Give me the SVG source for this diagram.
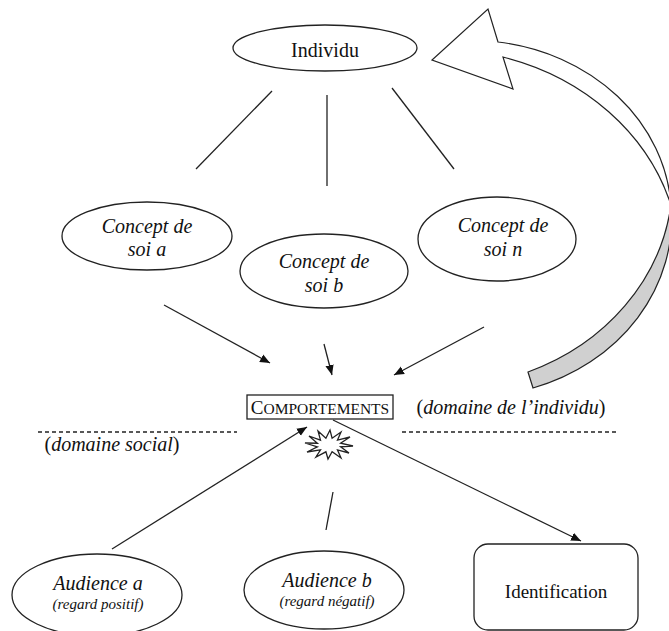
<svg xmlns="http://www.w3.org/2000/svg" width="669" height="631" viewBox="0 0 669 631">
<style>
  .shape { fill: #fff; stroke: #222; stroke-width: 1.3; }
  .ln { stroke: #222; stroke-width: 1.3; fill: none; }
  .dash { stroke: #222; stroke-width: 1.5; stroke-dasharray: 4 3; fill: none; }
  .t { font-family: "Liberation Serif", "Times New Roman", serif; fill: #111; text-anchor: middle; }
  .it { font-style: italic; }
</style>
<defs>
  <marker id="arr" viewBox="0 0 10 10" refX="10" refY="5" markerWidth="10" markerHeight="10" markerUnits="userSpaceOnUse" orient="auto">
    <path d="M0,0.8 L10,5 L0,9.2 Z" fill="#111"/>
  </marker>
</defs>
<rect width="669" height="631" fill="#fff"/>

<g id="feedback-arrow">
  <path d="M 671,205 A 200 178 0 0 1 533,388 L 528,372 A 232 208 0 0 0 671,205 Z" fill="#d0d0d0" stroke="#222" stroke-width="1.2"/>
  <path d="M 498,42 L 488,9 L 432,60 L 513,89 L 503,57 A 244 216 0 0 1 671,205 A 200 176 0 0 0 498,42 Z" fill="#fff" stroke="#222" stroke-width="1.2"/>
</g>

<g id="connectors">
  <line class="ln" x1="272" y1="91" x2="196" y2="169"/>
  <line class="ln" x1="327" y1="95" x2="327" y2="186"/>
  <line class="ln" x1="392" y1="88" x2="454" y2="169"/>
  <line class="ln" x1="164" y1="305" x2="270" y2="363" marker-end="url(#arr)"/>
  <line class="ln" x1="324" y1="344" x2="332" y2="375" marker-end="url(#arr)"/>
  <line class="ln" x1="484" y1="327" x2="394" y2="375" marker-end="url(#arr)"/>
  <line class="ln" x1="112" y1="549" x2="307" y2="427" marker-end="url(#arr)"/>
  <line class="ln" x1="333" y1="420" x2="581" y2="541" marker-end="url(#arr)"/>
  <line class="ln" x1="333" y1="492" x2="326" y2="530"/>
</g>

<g id="individu">
  <ellipse class="shape" cx="325" cy="48" rx="92" ry="23"/>
  <text class="t" x="325" y="57" font-size="20">Individu</text>
</g>

<g id="concept-a">
  <ellipse class="shape" cx="147" cy="236" rx="85" ry="34"/>
  <text class="t it" x="147" y="233" font-size="20">Concept de</text>
  <text class="t it" x="147" y="256" font-size="20">soi a</text>
</g>

<g id="concept-b">
  <ellipse class="shape" cx="324" cy="271" rx="84" ry="37"/>
  <text class="t it" x="324" y="268" font-size="20">Concept de</text>
  <text class="t it" x="324" y="292" font-size="20">soi b</text>
</g>

<g id="concept-n">
  <ellipse class="shape" cx="497" cy="239" rx="79" ry="42"/>
  <text class="t it" x="503" y="232" font-size="20">Concept de</text>
  <text class="t it" x="503" y="256" font-size="20">soi n</text>
</g>

<g id="comportements">
  <rect class="shape" x="247" y="395" width="146" height="24"/>
  <text class="t" x="320" y="414"><tspan font-size="19">C</tspan><tspan font-size="15.5">OMPORTEMENTS</tspan></text>
</g>

<g id="domaines">
  <line class="dash" x1="38" y1="432" x2="237" y2="432"/>
  <line class="dash" x1="402" y1="432" x2="616" y2="432"/>
  <text class="t" x="511" y="414" font-size="20">(<tspan class="it">domaine de l’individu</tspan>)</text>
  <text class="t" x="112" y="451" font-size="20">(<tspan class="it">domaine social</tspan>)</text>
</g>

<g id="conflit">
  <polygon class="shape" stroke-width="1.1" points="353,446 340.6,446.8 349,453 337.5,449.9 341,458 332.1,451.8 328,459 325.9,451.8 316,457 320.5,449.9 307,452 317.4,446.8 305,443 317.4,443.2 309,436 320.5,440.1 318,431 325.9,438.2 330,430 332.1,438.2 341,432 337.5,440.1 350,437 340.6,443.2"/>
</g>

<g id="audience-a">
  <ellipse class="shape" cx="97" cy="595" rx="85" ry="41"/>
  <text class="t it" x="98" y="590" font-size="20">Audience a</text>
  <text class="t it" x="98" y="609" font-size="15">(regard positif)</text>
</g>

<g id="audience-b">
  <ellipse class="shape" cx="324" cy="590" rx="80" ry="39"/>
  <text class="t it" x="327" y="587" font-size="20">Audience b</text>
  <text class="t it" x="327" y="606" font-size="15">(regard négatif)</text>
</g>

<g id="identification">
  <rect class="shape" x="474" y="544" width="164" height="86" rx="14"/>
  <text class="t" x="556" y="598" font-size="19">Identification</text>
</g>
</svg>
